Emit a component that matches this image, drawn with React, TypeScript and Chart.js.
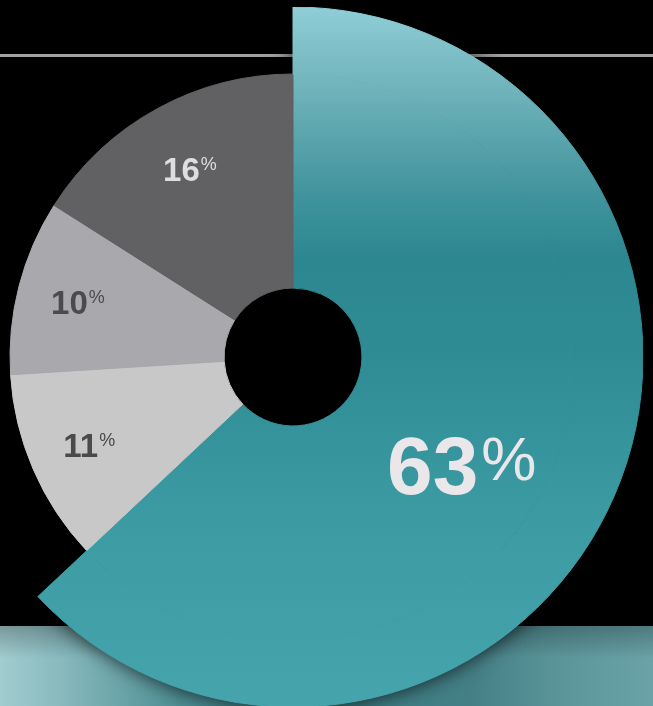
import { useEffect, useRef } from "react";
import { Chart, registerables } from "chart.js";

Chart.register(...registerables);

// ---- data ----
const categories = ["Segment A", "Segment B", "Segment C", "Segment D"];
const shares = [63, 11, 10, 16];
const restTotal = shares.slice(1).reduce((a, b) => a + b, 0);

const greys = ["", "#c8c8c8", "#a9a9ad", "#616163"];
const labelColors = ["#e9e7ea", "#4a4a4c", "#4b4b4f", "#dedede"];

function tealGradient(chart: any) {
  const c: any = chart;
  if (!c.$teal) {
    const g = chart.ctx.createLinearGradient(0, 0, 0, 700);
    g.addColorStop(0.0, "#8fced6");
    g.addColorStop(0.13, "#6cb0b8");
    g.addColorStop(0.27, "#40939c");
    g.addColorStop(0.36, "#2c8790");
    g.addColorStop(0.5, "#2f8c94");
    g.addColorStop(0.72, "#3b9aa2");
    g.addColorStop(1.0, "#46a4ac");
    c.$teal = g;
  }
  return c.$teal;
}

const labelPlugin = {
  id: "sliceLabels",
  afterDatasetsDraw(chart: any) {
    const meta = chart.getDatasetMeta(1);
    const ctx = chart.ctx;
    ctx.save();
    meta.data.forEach((arc: any, i: number) => {
      const { x, y, startAngle, endAngle } = arc.getProps(
        ["x", "y", "startAngle", "endAngle"],
        true
      );
      const big = i === 0;
      const a = startAngle + (endAngle - startAngle) * (big ? 0.54 : 0.5);
      const r = big ? 200 : i === 3 ? 214 : 222;
      const cx = x + Math.cos(a) * r;
      const cy = y + Math.sin(a) * r;
      const num = String(shares[i]);
      const numSize = big ? 82 : 33;
      const pctSize = big ? 62 : 18;
      const numFont = `bold ${numSize}px "Liberation Sans", Arial, sans-serif`;
      const pctFont = `${pctSize}px "Liberation Sans", Arial, sans-serif`;
      const digitH = numSize * 0.716;
      const rise = big ? 14 : 11;
      const gap = big ? 3 : 1;
      ctx.font = numFont;
      const wn = ctx.measureText(num).width;
      ctx.font = pctFont;
      const wp = ctx.measureText("%").width;
      const total = wn + gap + wp;
      const left = cx - total / 2;
      const base = cy + digitH / 2;
      ctx.fillStyle = labelColors[i];
      ctx.textAlign = "left";
      ctx.textBaseline = "alphabetic";
      ctx.font = numFont;
      ctx.fillText(num, left, base);
      ctx.font = pctFont;
      ctx.fillText("%", left + wn + gap, base - rise);
    });
    ctx.restore();
  },
};

export default function App() {
  const ref = useRef<HTMLCanvasElement | null>(null);

  useEffect(() => {
    if (!ref.current) return;
    const chart = new Chart(ref.current, {
      type: "doughnut",
      data: {
        labels: categories,
        datasets: [
          {
            data: [shares[0], restTotal],
            backgroundColor: (c: any) =>
              c.dataIndex === 0 ? tealGradient(c.chart) : "rgba(0,0,0,0)",
            borderColor: (c: any) =>
              c.dataIndex === 0 ? tealGradient(c.chart) : "rgba(0,0,0,0)",
            borderWidth: [1, 0],
            weight: 67,
          } as any,
          {
            data: shares,
            backgroundColor: (c: any) =>
              c.dataIndex === 0 ? tealGradient(c.chart) : greys[c.dataIndex],
            borderColor: (c: any) =>
              c.dataIndex === 0 ? tealGradient(c.chart) : greys[c.dataIndex],
            borderWidth: 1,
            weight: 214,
          } as any,
        ],
      },
      options: {
        responsive: false,
        animation: false,
        events: [],
        radius: 350,
        cutout: "19.7%",
        layout: { padding: 0 },
        plugins: {
          legend: { display: false },
          tooltip: { enabled: false },
        },
      } as any,
      plugins: [labelPlugin],
    });
    return () => chart.destroy();
  }, []);

  return (
    <div
      style={{
        position: "absolute",
        left: 0,
        top: 0,
        width: 653,
        height: 706,
        overflow: "hidden",
        background: "#000",
      }}
    >
      <div
        style={{
          position: "absolute",
          left: 0,
          top: 54,
          width: 653,
          height: 3,
          background: "#a2a2a2",
        }}
      />
      <div
        style={{
          position: "absolute",
          left: 0,
          top: 626,
          width: 653,
          height: 80,
          background:
            "radial-gradient(ellipse 60px 16px at 18px 706px, rgba(255,255,255,0.85), rgba(255,255,255,0)), linear-gradient(to bottom, rgba(0,0,0,0.25) 0%, rgba(0,0,0,0) 40%), linear-gradient(to right, #a2cccf 0%, #86b8bc 10%, #4c8d93 28%, #3a7c83 50%, #447f86 72%, #5a9499 85%, #6aa2a7 100%)",
        }}
      />
      <canvas
        ref={ref}
        width={700}
        height={700}
        style={{
          position: "absolute",
          left: -57,
          top: 7,
          width: 700,
          height: 700,
          filter: "drop-shadow(0 0 10px rgba(0,0,0,0.75))",
        }}
      />
    </div>
  );
}
